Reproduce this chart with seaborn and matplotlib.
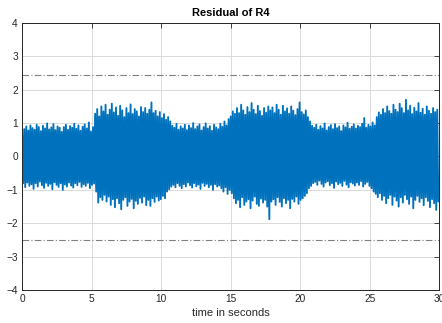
"""Residual of R4: time trace with upper/lower threshold lines."""

import matplotlib
matplotlib.use("Agg")
import matplotlib.pyplot as plt
import numpy as np
import pandas as pd
import seaborn as sns

# Sample spacing of the read-off envelope (seconds); peaks and troughs alternate.
sample_step = 0.15

# Local maxima of the residual, one per 0.15 s bin.
residual_peaks = [
    0.65, 0.82, 0.90, 0.78, 0.93, 0.85, 0.80, 0.95, 0.88, 0.76, 0.92, 0.84, 0.99, 0.81, 0.87, 0.97, 0.79, 0.90, 0.86, 0.74,
    0.88, 0.95, 0.80, 0.91, 0.86, 0.98, 0.83, 0.93, 0.77, 0.89, 0.96, 0.84, 1.02, 0.75, 0.88, 1.28, 1.42, 1.20, 1.50, 1.35,
    1.55, 1.25, 1.40, 1.58, 1.32, 1.47, 1.22, 1.52, 1.38, 1.18, 1.45, 1.30, 1.56, 1.27, 1.42, 1.35, 1.20, 1.48, 1.33, 1.45,
    1.28, 1.40, 1.62, 1.30, 1.37, 1.20, 1.33, 1.15, 1.27, 1.10, 1.18, 1.05, 0.92, 0.86, 0.98, 0.80, 0.90, 0.84, 0.95, 0.79,
    0.93, 0.85, 1.00, 0.82, 0.90, 0.96, 0.78, 0.88, 0.99, 0.84, 0.91, 0.77, 0.95, 0.87, 0.82, 0.98, 0.89, 1.05, 0.93, 1.12,
    1.20, 1.35, 1.28, 1.45, 1.30, 1.55, 1.38, 1.25, 1.48, 1.33, 1.60, 1.40, 1.27, 1.52, 1.36, 1.22, 1.45, 1.31, 1.50, 1.38,
    1.47, 1.30, 1.55, 1.40, 1.25, 1.52, 1.35, 1.44, 1.28, 1.50, 1.37, 1.24, 1.42, 1.62, 1.33, 1.26, 1.38, 1.18, 1.05, 0.92,
    0.86, 0.95, 0.80, 0.91, 0.84, 0.99, 0.78, 0.88, 0.94, 0.82, 0.97, 0.85, 0.90, 0.76, 0.93, 0.87, 1.01, 0.83, 0.89, 0.96,
    0.84, 0.92, 0.88, 0.98, 1.15, 0.86, 0.95, 0.90, 1.02, 0.93, 1.18, 1.32, 1.25, 1.42, 1.30, 1.50, 1.36, 1.28, 1.55, 1.40,
    1.33, 1.58, 1.45, 1.30, 1.70, 1.38, 1.52, 1.27, 1.46, 1.35, 1.60, 1.31, 1.43, 1.25, 1.50, 1.37, 1.28, 1.45, 1.33, 1.40,
]

# Local minima of the residual, offset half a bin from the peaks.
residual_troughs = [
    -0.80, -0.92, -0.78, -0.88, -0.83, -0.97, -0.80, -0.90, -0.75, -0.86, -0.94, -0.79, -0.88, -0.82, -0.98, -0.77, -0.85, -0.91, -0.80, -1.00,
    -0.84, -0.90, -0.78, -0.87, -0.93, -0.80, -0.86, -0.76, -0.91, -0.83, -0.88, -0.79, -0.95, -0.85, -0.81, -1.05, -1.38, -1.22, -1.30, -1.15,
    -1.35, -1.20, -1.45, -1.28, -1.52, -1.25, -1.40, -1.58, -1.30, -1.22, -1.48, -1.35, -1.27, -1.55, -1.33, -1.42, -1.24, -1.38, -1.20, -1.46,
    -1.30, -1.48, -1.25, -1.36, -1.20, -1.32, -1.28, -1.18, -1.25, -1.05, -0.98, -0.90, -0.85, -0.92, -0.80, -0.88, -0.95, -0.83, -0.90, -0.78,
    -0.86, -0.93, -0.80, -0.89, -0.84, -0.97, -0.79, -0.88, -0.82, -0.92, -0.85, -1.00, -0.83, -0.90, -0.87, -0.95, -1.05, -0.92, -1.12, -1.00,
    -1.10, -1.25, -1.40, -1.30, -1.52, -1.22, -1.45, -1.35, -1.28, -1.55, -1.32, -1.20, -1.42, -1.48, -1.26, -1.38, -1.30, -1.50, -1.88, -1.35,
    -1.28, -1.45, -1.22, -1.36, -1.50, -1.25, -1.40, -1.30, -1.55, -1.27, -1.35, -1.20, -1.42, -1.30, -1.25, -1.18, -1.10, -0.95, -0.88, -0.80,
    -0.76, -0.85, -0.72, -0.82, -0.90, -0.78, -0.74, -0.86, -0.80, -0.94, -0.75, -0.83, -0.79, -0.88, -0.73, -0.84, -0.92, -0.77, -0.81, -0.87,
    -0.78, -0.85, -0.74, -0.90, -0.82, -0.76, -0.88, -0.95, -1.05, -1.12, -1.22, -1.10, -1.30, -1.18, -1.40, -1.25, -1.15, -1.45, -1.20, -1.32,
    -1.50, -1.22, -1.38, -1.15, -1.28, -1.42, -1.20, -1.55, -1.30, -1.18, -1.36, -1.25, -1.46, -1.22, -1.33, -1.52, -1.28, -1.40, -1.60, -1.35,
]

upper_threshold = 2.43
lower_threshold = -2.50

x_ticks = [0, 5, 10, 15, 20, 25, 30]
y_ticks = [-4, -3, -2, -1, 0, 1, 2, 3, 4]

# Interleave peaks and troughs into a single time trace.
n_bins = len(residual_peaks)
peak_times = np.arange(n_bins) * sample_step
trough_times = peak_times + sample_step / 2
times = np.column_stack([peak_times, trough_times]).ravel()
values = np.column_stack([residual_peaks, residual_troughs]).ravel()
trace = pd.DataFrame({"time": times, "residual": values})

sns.set_style("white")
plt.rcParams["font.family"] = ["Liberation Sans", "DejaVu Sans"]

fig = plt.figure(figsize=(4.42, 3.23), dpi=100)
ax = fig.add_axes([0.050, 0.102, 0.944, 0.827])

axis_color = "#262626"
ax.grid(True, color="#dadada", linewidth=0.7)
ax.set_axisbelow(True)

sns.lineplot(
    data=trace,
    x="time",
    y="residual",
    estimator=None,
    sort=False,
    color="#0072BD",
    linewidth=1.35,
    ax=ax,
)

for level in (upper_threshold, lower_threshold):
    ax.axhline(level, color="#808080", linewidth=0.8, linestyle=(0, (6, 2, 1, 2)))

ax.set_xlim(0, 30)
ax.set_ylim(-4, 4)
ax.set_xticks(x_ticks)
ax.set_yticks(y_ticks)
ax.tick_params(
    direction="in",
    length=3.5,
    width=0.6,
    colors=axis_color,
    labelsize=7.3,
    top=True,
    right=True,
    pad=3,
)
for spine in ax.spines.values():
    spine.set_visible(True)
    spine.set_color(axis_color)
    spine.set_linewidth(0.7)

ax.set_title("Residual of R4", fontsize=8, fontweight="bold", color="black", pad=5)
ax.set_xlabel("time in seconds", fontsize=8, color=axis_color, labelpad=3)
ax.set_ylabel("")

fig.savefig("out.png", dpi=100)
